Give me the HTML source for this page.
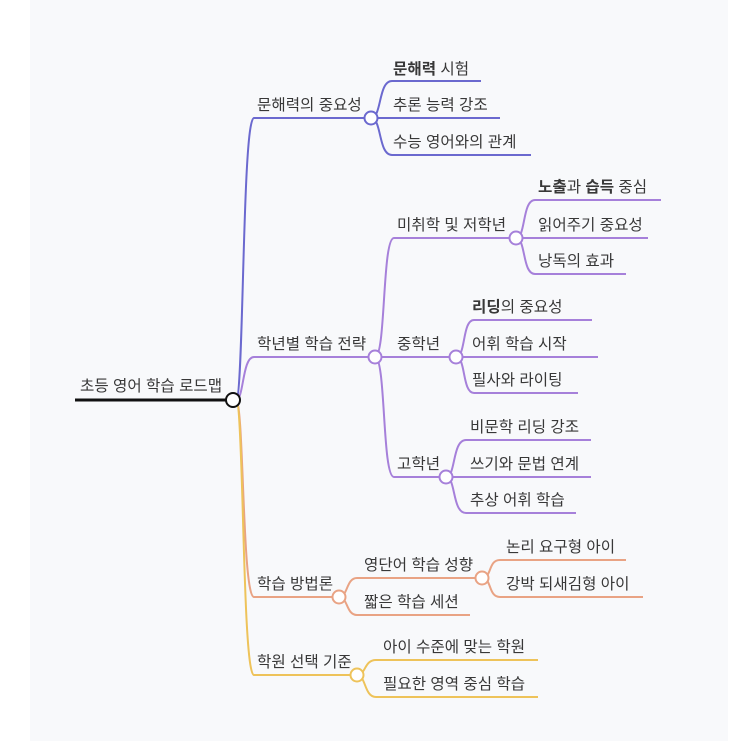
<!DOCTYPE html>
<html><head><meta charset="utf-8"><style>
body{margin:0;background:#fff;}
svg{display:block;}
text{font-family:"Liberation Sans","Noto Sans CJK KR",sans-serif;font-size:15.6px;fill:#383838;}
.b{font-weight:bold;}
</style></head><body>
<svg width="743" height="741" viewBox="0 0 743 741">
<rect x="30" y="0" width="698" height="741" fill="#f8f9fb"/>
<g fill="none" stroke-width="2">
<g stroke="#6b69cf">
<path d="M236,400 C244,400 242,118 254,118 L371,118"/>
<path d="M371,118 C382,118 378,81 392,81 L481,81"/>
<path d="M371,118 L500,118"/>
<path d="M371,118 C382,118 378,155 392,155 L531,155"/>
</g>
<g stroke="#a680da">
<path d="M236,400 C244,400 242,357 254,357 L375,357"/>
<path d="M375,357 C386,357 382,238 394,238 L516,238"/>
<path d="M375,357 L456,357"/>
<path d="M375,357 C386,357 382,477 394,477 L446,477"/>
<path d="M516,238 C526,238 522,200 535,200 L661,200"/>
<path d="M516,238 L648,238"/>
<path d="M516,238 C526,238 522,274 535,274 L626,274"/>
<path d="M456,357 C466,357 462,320 474,320 L592,320"/>
<path d="M456,357 L598,357"/>
<path d="M456,357 C466,357 462,393 474,393 L578,393"/>
<path d="M446,477 C456,477 452,440 466,440 L591,440"/>
<path d="M446,477 L591,477"/>
<path d="M446,477 C456,477 452,513 466,513 L576,513"/>
</g>
<g stroke="#e9a384">
<path d="M236,400 C244,400 242,597 254,597 L339,597"/>
<path d="M339,597 C348,597 346,578 357,578 L482,578"/>
<path d="M339,597 C348,597 346,615 357,615 L470,615"/>
<path d="M482,578 C492,578 488,560 500,560 L626,560"/>
<path d="M482,578 C492,578 488,597 500,597 L643,597"/>
</g>
<g stroke="#eec35a">
<path d="M236,400 C244,400 242,675 254,675 L357,675"/>
<path d="M357,675 C366,675 364,660 376,660 L538,660"/>
<path d="M357,675 C366,675 364,697 376,697 L538,697"/>
</g>
<line x1="75" y1="400" x2="233" y2="400" stroke="#111" stroke-width="3"/>
</g>
<g fill="#fff" stroke-width="2">
<circle cx="233" cy="400" r="7" stroke="#111"/>
<circle cx="371" cy="118" r="6.5" stroke="#6b69cf"/>
<circle cx="375" cy="357" r="6.5" stroke="#a680da"/>
<circle cx="516" cy="238" r="6.5" stroke="#a680da"/>
<circle cx="456" cy="357" r="6.5" stroke="#a680da"/>
<circle cx="446" cy="477" r="6.5" stroke="#a680da"/>
<circle cx="339" cy="597" r="6.5" stroke="#e9a384"/>
<circle cx="482" cy="578" r="6.5" stroke="#e9a384"/>
<circle cx="357" cy="675" r="6.5" stroke="#eec35a"/>
</g>
<text x="80" y="391">초등 영어 학습 로드맵</text>
<text x="257" y="110">문해력의 중요성</text>
<text x="393" y="74"><tspan class="b">문해력</tspan> 시험</text>
<text x="393" y="110">추론 능력 강조</text>
<text x="393" y="147">수능 영어와의 관계</text>
<text x="257" y="349">학년별 학습 전략</text>
<text x="397" y="230">미취학 및 저학년</text>
<text x="538" y="192"><tspan class="b">노출</tspan>과 <tspan class="b">습득</tspan> 중심</text>
<text x="538" y="230">읽어주기 중요성</text>
<text x="538" y="266">낭독의 효과</text>
<text x="397" y="349">중학년</text>
<text x="472" y="312"><tspan class="b">리딩</tspan>의 중요성</text>
<text x="472" y="349">어휘 학습 시작</text>
<text x="472" y="385">필사와 라이팅</text>
<text x="397" y="469">고학년</text>
<text x="470" y="432">비문학 리딩 강조</text>
<text x="470" y="469">쓰기와 문법 연계</text>
<text x="470" y="505">추상 어휘 학습</text>
<text x="257" y="589">학습 방법론</text>
<text x="364" y="570">영단어 학습 성향</text>
<text x="364" y="607">짧은 학습 세션</text>
<text x="506" y="552">논리 요구형 아이</text>
<text x="506" y="589">강박 되새김형 아이</text>
<text x="257" y="667">학원 선택 기준</text>
<text x="383" y="652">아이 수준에 맞는 학원</text>
<text x="383" y="689">필요한 영역 중심 학습</text>
</svg>
</body></html>
